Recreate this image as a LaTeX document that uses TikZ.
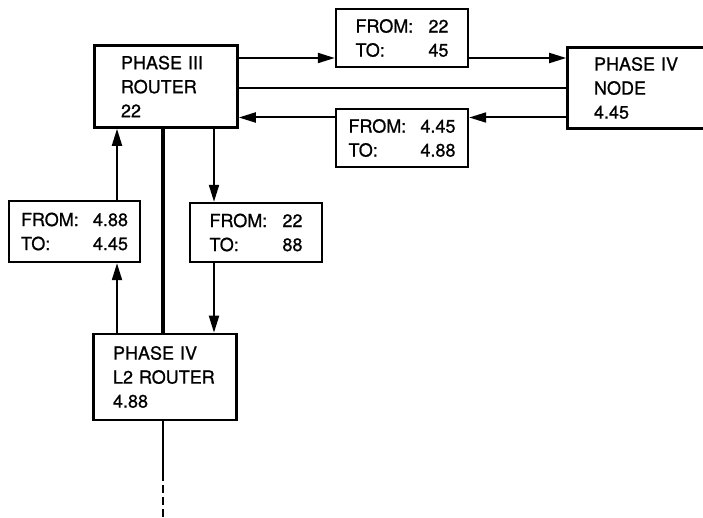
\documentclass[tikz,border=0pt]{standalone}
\usepackage{fontspec}
\setmainfont{TeX Gyre Heros}[FakeBold=0.9]
\usetikzlibrary{arrows.meta}

\begin{document}
\begin{tikzpicture}[x=1pt, y=-1pt,
  hostbox/.style={draw, line width=2.6pt, align=left, inner sep=0pt,
    minimum width=143pt, minimum height=82pt, text width=#1, font=\netFont},
  addrbox/.style={draw, line width=2.4pt, align=left, inner sep=0pt,
    minimum width=132pt, minimum height=58pt, text width=#1, font=\netFont},
  msgarrow/.style={line width=2pt, -{Triangle[length=17pt,width=10pt]}},
  trunk/.style={line width=#1}]
% Phase III / Phase IV address mapping
\providecommand{\netFont}{\fontsize{18}{24}\selectfont}
\providecommand{\fromTo}[2]{FROM:\hfill #1\\TO:\hfill #2}
\useasboundingbox (0,0) rectangle (703,518);
\begin{scope}[line join=miter]
  \clip (0,0) rectangle (703,518);
  % Hosts
  \node[hostbox=90pt] (r3) at (166,86.5) {PHASE III\\ROUTER\\22};
  \node[hostbox=110pt, minimum width=163pt, minimum height=81pt] (n4) at (649,88) {PHASE IV\\NODE\\4.45};
  \node[hostbox=104pt, minimum height=86pt] (l2) at (165,377) {PHASE IV\\L2 ROUTER\\4.88};
  % Address boxes
  \node[addrbox=93pt] (ft) at (402,38) {\fromTo{22}{45}};
  \node[addrbox=107pt] (fb) at (402,138) {\fromTo{4.45}{4.88}};
  \node[addrbox=107pt, minimum width=131pt, minimum height=61pt] (fl) at (74.5,231.5) {\fromTo{4.88}{4.45}};
  \node[addrbox=93pt, minimum height=59pt] (fm) at (256,232.5) {\fromTo{22}{88}};
  % Tracks
  \coordinate (ytop) at (0,58);
  \coordinate (ymid) at (0,88);
  \coordinate (ybot) at (0,117.5);
  \coordinate (xup) at (117,0);
  \coordinate (xtrunk) at (163,0);
  \coordinate (xdown) at (214,0);
  \coordinate (tail) at (163,481);
  \coordinate (stub) at (163,518);
  % Horizontal links
  \draw[msgarrow] (r3.east |- ytop) -- (ft.west |- ytop);
  \draw[msgarrow] (ft.east |- ytop) -- (n4.west |- ytop);
  \draw[trunk=2.6pt] (r3.east |- ymid) -- (n4.west |- ymid);
  \draw[msgarrow] (n4.west |- ybot) -- (fb.east |- ybot);
  \draw[msgarrow] (fb.west |- ybot) -- (r3.east |- ybot);
  % Vertical links
  \draw[msgarrow] (fl.north -| xup) -- (r3.south -| xup);
  \draw[msgarrow] (l2.north -| xup) -- (fl.south -| xup);
  \draw[msgarrow] (r3.south -| xdown) -- (fm.north -| xdown);
  \draw[msgarrow] (fm.south -| xdown) -- (l2.north -| xdown);
  \draw[trunk=4pt] (r3.south -| xtrunk) -- (l2.north -| xtrunk);
  \draw[trunk=2pt] (l2.south -| xtrunk) -- (tail);
  \draw[trunk=2pt, dash pattern=on 8pt off 4pt, dash phase=8pt] (tail) -- (stub);
\end{scope}
\end{tikzpicture}
\end{document}
